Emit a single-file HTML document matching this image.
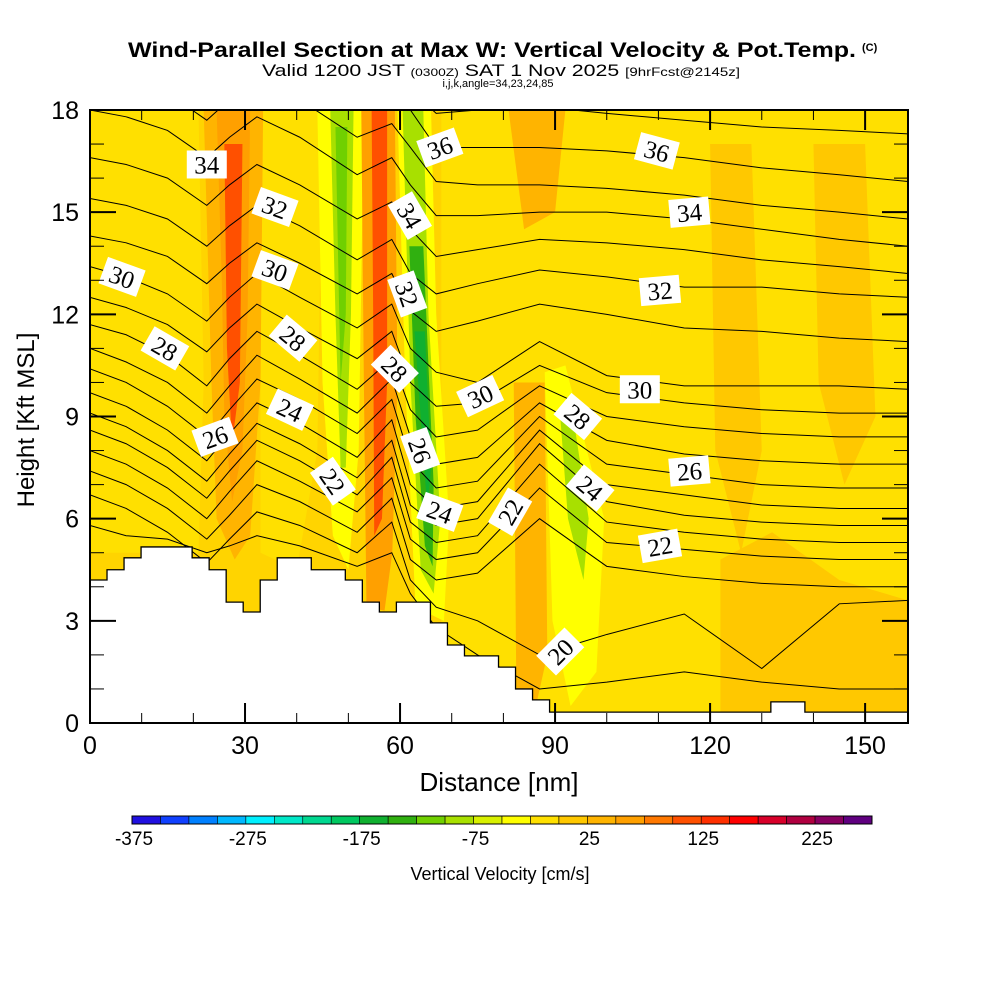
<!DOCTYPE html>
<html><head><meta charset="utf-8"><style>
html,body{margin:0;padding:0;background:#fff;width:1000px;height:1000px;overflow:hidden}
svg{display:block}
text{font-family:"Liberation Sans",sans-serif}
</style></head><body>
<svg id="chart" width="1000" height="1000" viewBox="0 0 1000 1000" xmlns="http://www.w3.org/2000/svg">
<defs><clipPath id="plotclip"><rect x="90" y="110" width="818" height="613"/></clipPath></defs>
<text x="128" y="57" font-size="21" font-weight="bold" textLength="728" lengthAdjust="spacingAndGlyphs">Wind-Parallel Section at Max W: Vertical Velocity &amp; Pot.Temp.</text>
<text x="862" y="51" font-size="11" font-weight="bold">(C)</text>
<text x="262" y="76" font-size="17" textLength="478" lengthAdjust="spacingAndGlyphs">Valid 1200 JST <tspan font-size="11">(0300Z)</tspan> SAT 1 Nov 2025 <tspan font-size="12">[9hrFcst@2145z]</tspan></text>
<text x="498" y="87" text-anchor="middle" font-size="11">i,j,k,angle=34,23,24,85</text>
<g id="field" clip-path="url(#plotclip)"></g>
<g id="contours" clip-path="url(#plotclip)"></g>
<g id="terrain" clip-path="url(#plotclip)"></g>
<g id="labels" clip-path="url(#plotclip)"></g>
<g id="axes"></g>
<g id="cbar"></g>
<text x="499" y="791" text-anchor="middle" font-size="26">Distance [nm]</text>
<text transform="translate(34,420) rotate(-90)" text-anchor="middle" font-size="24">Height [Kft MSL]</text>
<text x="500" y="880" text-anchor="middle" font-size="18">Vertical Velocity [cm/s]</text>
</svg>
<script>
const xTicks = [0,30,60,90,120,150];
const yTicks = [0,3,6,9,12,15,18];
const cbColors = ["#2010e0","#1040ff","#0080ff","#00b8ff","#00f0ff","#00e8c8","#00d890","#00c860","#10b030","#30b010","#70d000","#a8e000","#d8f000","#ffff00","#ffe000","#ffc800","#ffb400","#ffa000","#ff7800","#ff5000","#ff3000","#ff0000","#d8002a","#b00040","#880060","#600080"];
const cbTickLabels = [-375,-275,-175,-75,25,125,225];
const knots = [0,7,15,22.6,27,32.3,40.6,51.7,58.4,62,67,75,87,100,115,130,145,158.3];
const th37 = [20.6,20.4,20.0,19.2,19.8,20.4,19.8,18.8,19.2,18.6,17.9,18.0,18.1,17.9,17.7,17.5,17.4,17.3];
const th36 = [20.3,20.1,19.7,18.9,19.5,20.1,19.5,18.4,18.8,18.0,16.9,16.9,16.9,16.8,16.6,16.3,16.1,15.9];
const th35 = [19.1,18.9,18.5,17.7,18.3,18.9,18.3,17.2,17.6,16.9,15.9,15.8,15.8,15.7,15.5,15.2,15.0,14.8];
const th34 = [18.0,17.8,17.4,16.6,17.2,17.8,17.2,16.1,16.6,15.8,14.9,14.9,15.0,15.0,14.8,14.5,14.2,14.0];
const th33 = [16.6,16.4,16.0,15.2,15.8,16.4,15.8,14.8,15.3,14.5,13.7,13.9,14.2,14.1,13.9,13.6,13.4,13.2];
const th32 = [15.4,15.2,14.8,14.0,14.6,15.2,14.6,13.6,14.2,13.2,12.6,12.9,13.3,13.1,12.8,12.8,12.6,12.5];
const th31 = [14.3,14.1,13.7,12.9,13.5,14.1,13.5,12.6,13.2,12.1,11.5,11.8,12.3,12.0,11.6,11.5,11.3,11.2];
const th30 = [13.4,13.1,12.6,11.8,12.5,13.2,12.5,11.6,12.3,11.0,10.3,10.0,11.2,10.2,9.9,9.9,9.9,9.8];
const th29 = [12.5,12.2,11.7,10.9,11.6,12.3,11.6,10.7,11.5,10.0,9.3,9.4,10.5,9.7,9.4,9.2,9.1,9.1];
const th28 = [11.7,11.4,10.8,9.9,10.7,11.5,10.8,9.8,10.7,9.2,8.4,8.6,9.9,9.0,8.7,8.5,8.4,8.4];
const th27 = [11.0,10.6,10.0,9.1,9.9,10.8,10.1,9.1,10.1,8.4,7.6,7.8,9.4,8.3,7.9,7.7,7.6,7.6];
const th26 = [10.4,10.0,9.3,8.4,9.2,10.1,9.5,8.5,9.5,7.7,6.9,7.1,9.0,7.6,7.3,7.0,6.9,6.9];
const th25 = [9.7,9.3,8.6,7.7,8.5,9.4,8.8,7.8,8.9,7.0,6.3,6.5,8.6,7.0,6.7,6.4,6.3,6.3];
const th24 = [9.1,8.7,8.0,7.1,7.9,8.8,8.2,7.2,8.3,6.4,5.8,6.0,8.2,6.5,6.1,5.9,5.8,5.8];
const th23 = [8.6,8.2,7.5,6.6,7.4,8.3,7.7,6.7,7.8,5.9,5.3,5.5,7.6,5.9,5.6,5.4,5.3,5.3];
const th22 = [8.0,7.6,6.9,6.0,6.8,7.7,7.1,6.2,7.2,5.4,4.8,5.0,6.9,5.3,5.1,4.9,4.8,4.8];
const th21 = [7.4,7.0,6.3,5.4,6.1,7.0,6.5,5.6,6.6,4.8,4.2,4.4,6.0,4.6,4.3,4.1,4.0,4.0];
const th20 = [6.7,6.3,5.6,4.7,5.4,6.2,5.8,5.0,5.9,4.2,3.4,3.0,2.0,2.6,3.2,1.6,3.5,3.6];
const th19 = [5.8,5.5,5.4,5.0,5.2,5.5,5.2,4.6,5.0,3.8,2.8,2.0,1.0,1.2,1.5,1.2,1.0,1.0];
const thetaSeries = [th37,th36,th35,th34,th33,th32,th31,th30,th29,th28,th27,th26,th25,th24,th23,th22,th21,th20,th19];
const terrainColWidth = 3.294;
const terrainHeights = [4.2,4.5,4.85,5.17,5.17,5.17,4.85,4.5,3.55,3.26,4.2,4.85,4.85,4.5,4.5,4.2,3.55,3.26,3.55,3.55,2.94,2.29,1.97,1.97,1.64,1.0,0.68,0.32,0.32,0.32,0.32,0.32,0.32,0.32,0.32,0.32,0.32,0.32,0.32,0.32,0.62,0.62,0.32,0.32,0.32,0.32,0.32,0.32,0.32];
const fieldValues = [-20,-20,-10,30,30,60,100,-50,-95,-110,60,100,-50,-95,-140,-160,30,10,-50,-80,10,10];
const fieldShapes = [
 [[0,18],[21,18],[22,10],[21,5],[0,5]],
 [[33,18],[45,18],[44,8],[40,4.5],[33,5]],
 [[68,18],[158.3,18],[158.3,0],[68,0]],
 [[22,18],[33.5,18],[33,10],[31,5.5],[28,4.8],[24.5,6],[23.5,10]],
 [[81,18],[92,18],[90,15],[84,14.5]],
 [[24.5,18],[31,18],[30.5,12],[29.5,8],[27.5,6.5],[26,9],[25.5,13]],
 [[26,17],[29.5,17],[29,10],[27.5,8.2],[26.5,11]],
 [[44,18],[53,18],[52,8],[50,4.5],[47,5.5],[45,10]],
 [[46.5,18],[51,18],[50.5,12],[49.5,7.5],[48.5,7.5],[47.5,12]],
 [[47.5,17.5],[49.8,17.5],[49.5,12],[48.5,10]],
 [[52.5,18],[59,18],[59.5,10],[58.5,5],[57,3.3],[53.5,3.4],[53,10]],
 [[54.5,18],[57.5,18],[57.5,10],[56.5,6],[55,5.5],[54.8,12]],
 [[59.5,18],[66,18],[67,12],[69.5,6],[68.5,3],[63,3.4],[61,10]],
 [[60.5,18],[64.5,18],[65.5,12],[67.8,6],[66.5,3.8],[64,4.5],[62,10]],
 [[61.8,14],[64.5,14],[66.5,7],[66.3,4.6],[64.8,5.2],[63,9]],
 [[62.8,11.5],[64.8,11.5],[66,7.5],[65.3,6.2]],
 [[82,10],[88,10],[88.5,2],[86,0.3],[82.5,1]],
 [[122,4.8],[132,5.6],[145,4.2],[158.3,3.6],[158.3,0],[122,0]],
 [[88,10.3],[92,10.5],[99.5,6],[98,1.5],[93,0.5],[89.5,3]],
 [[91,9],[93.5,9],[96.5,6],[95.5,4.2],[92.5,6]],
 [[120,17],[128,17],[130,8],[126,5],[121,8]],
 [[140,17],[150,17],[152,9],[146,7],[141,10]]
];
const labelTexts = ["34","32","30","28","24","26","28","30","22","36","34","32","28","26","24","30","22","28","24","20","36","34","32","30","26","22"];
const labelX = [22.6,35.8,35.8,39.3,38.7,24.2,14.5,6.2,47,67.7,61.9,61.4,59,63.9,67.7,75.5,81.3,94.4,96.8,91,109.7,116,110.3,106.4,116,110.3];
const labelY = [16.4,15.15,13.3,11.3,9.2,8.4,11.0,13.1,7.1,16.9,14.9,12.6,10.4,8.0,6.2,9.6,6.2,9.0,6.9,2.1,16.8,15.0,12.7,9.8,7.4,5.2];
const labelAngle = [0,20,20,40,25,-20,30,20,55,-20,60,70,45,70,20,-25,-60,40,40,-45,15,-5,-5,0,-5,-10];

const NS='http://www.w3.org/2000/svg';
const X0=90,X1=908,Y0=723,Y1=110,XMAX=158.3,YMAX=18;
function sx(v){return X0+v*(X1-X0)/XMAX;}
function sy(v){return Y0-v*(Y0-Y1)/YMAX;}
function colorOf(v){let i=Math.floor((v+375)/25);i=Math.max(0,Math.min(cbColors.length-1,i));return cbColors[i];}
function mk(tag,attrs,parent){const e=document.createElementNS(NS,tag);for(const k in attrs)e.setAttribute(k,attrs[k]);parent.appendChild(e);return e;}

const field=document.getElementById('field');
const bg=mk('rect',{x:X0,y:Y1,width:X1-X0,height:Y0-Y1,fill:'#ffd400'},field);


fieldShapes.forEach((pts,i)=>{
  const p=mk('polygon',{points:pts.map(q=>sx(q[0])+','+sy(q[1])).join(' '),fill:colorOf(fieldValues[i]),stroke:'none'},field);
  
  
});

const cont=document.getElementById('contours');
thetaSeries.forEach((s)=>{
  const pl=mk('polyline',{points:s.map((v,j)=>sx(knots[j])+','+sy(v)).join(' '),fill:'none',stroke:'#000','stroke-width':1},cont);
  
  
});

const ter=document.getElementById('terrain');
let tp=[[sx(0),Y0+2]];
terrainHeights.forEach((h,i)=>{
  const xa=sx(i*terrainColWidth),xb=sx(Math.min(XMAX+1,(i+1)*terrainColWidth));
  tp.push([xa,sy(h)]);tp.push([xb,sy(h)]);
});
tp.push([X1+5,Y0+2]);
const tpoly=mk('polygon',{points:tp.map(q=>q[0]+','+q[1]).join(' '),fill:'#fff',stroke:'#000','stroke-width':1.3},ter);



const lab=document.getElementById('labels');
labelTexts.forEach((t,i)=>{
  const g=mk('g',{transform:`translate(${sx(labelX[i])},${sy(labelY[i])}) rotate(${labelAngle[i]})`},lab);
  
  
  mk('rect',{x:-20,y:-14,width:40,height:28,fill:'#fff'},g);
  const tx=mk('text',{x:0,y:9,'text-anchor':'middle','font-size':25,style:'font-family:"Liberation Serif",serif'},g);
  tx.textContent=t;
});

const ax=document.getElementById('axes');
const frame=mk('rect',{x:X0,y:Y1,width:X1-X0,height:Y0-Y1,fill:'none',stroke:'#000','stroke-width':2},ax);


for(let v=0;v<=XMAX;v+=10){
  const major=(v%30===0);const L=major?20:10;const x=sx(v);
  mk('line',{x1:x,y1:Y0,x2:x,y2:Y0-L,stroke:'#000','stroke-width':major?2:1},ax);
  mk('line',{x1:x,y1:Y1,x2:x,y2:Y1+L,stroke:'#000','stroke-width':major?2:1},ax);
}
for(let v=0;v<=YMAX;v+=1){
  const major=(v%3===0);const L=major?26:14;const y=sy(v);
  mk('line',{x1:X0,y1:y,x2:X0+L,y2:y,stroke:'#000','stroke-width':major?2:1},ax);
  mk('line',{x1:X1,y1:y,x2:X1-L,y2:y,stroke:'#000','stroke-width':major?2:1},ax);
}
xTicks.forEach(v=>{
  const t=mk('text',{x:sx(v),y:754,'text-anchor':'middle','font-size':25},ax);
  
  
  t.textContent=v;
});
yTicks.forEach(v=>{
  const t=mk('text',{x:79,y:sy(v)+9,'text-anchor':'end','font-size':25},ax);
  
  
  t.textContent=v;
});

const cb=document.getElementById('cbar');
const CBX0=132,CBX1=872,CBY=816,CBH=8;
const cw=(CBX1-CBX0)/cbColors.length;
cbColors.forEach((c,i)=>{
  const r=mk('rect',{x:CBX0+i*cw,y:CBY,width:cw,height:CBH,fill:c,stroke:'#000','stroke-width':0.6},cb);
  
  
});
mk('rect',{x:CBX0,y:CBY,width:CBX1-CBX0,height:CBH,fill:'none',stroke:'#000','stroke-width':1},cb);
cbTickLabels.forEach(v=>{
  const t=mk('text',{x:CBX0+(v+375)/25*cw+2,y:845,'text-anchor':'middle','font-size':19},cb);
  
  
  t.textContent=v;
});
</script>
</body></html>
